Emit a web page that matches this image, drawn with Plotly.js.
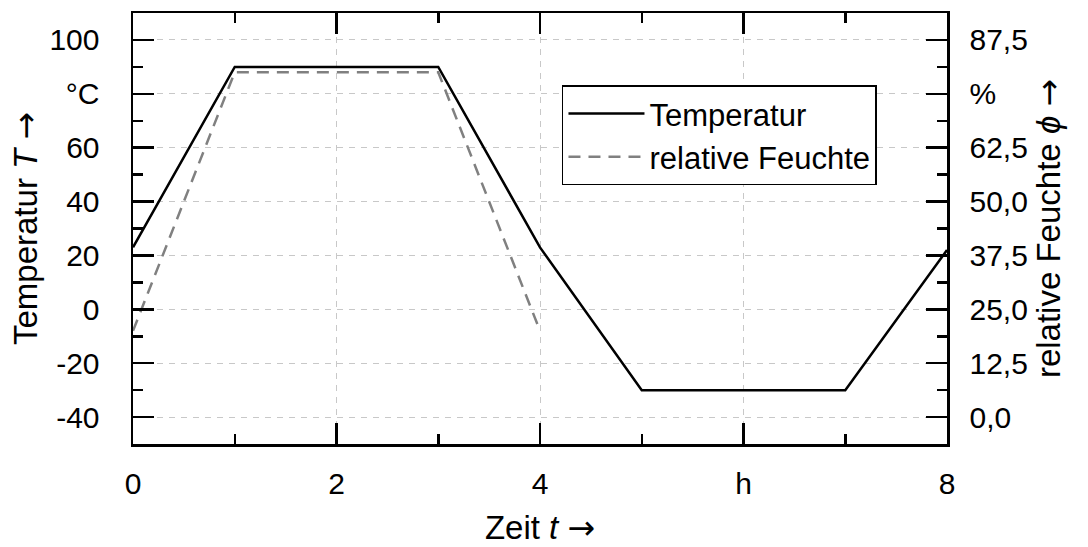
<!DOCTYPE html>
<html>
<head>
<meta charset="utf-8">
<script src="https://cdn.plot.ly/plotly-3.0.1.min.js"></script>
<style>html,body{margin:0;padding:0;background:#fff;}#chart{width:1088px;height:547px;}</style>
</head>
<body>
<div id="chart"></div>
<script>
// Data
const timeTemp = [0, 1, 3, 4, 5, 7, 8];
const temperature = [23, 90, 90, 23, -30, -30, 22];
const timeHum = [0, 1, 3, 4];
const humidity = [20, 80, 80, 20];

const xTickVals = [0, 2, 4, 6, 8];
const xTickText = ['0', '2', '4', 'h', '8'];
const yTickVals = [-40, -20, 0, 20, 40, 60, 80, 100];
const yTickText = ['-40', '-20', '0', '20', '40', '60', '°C', '100'];
const y2TickVals = [0, 12.5, 25, 37.5, 50, 62.5, 75, 87.5];
const y2TickText = ['0,0', '12,5', '25,0', '37,5', '50,0', '62,5', '%', '87,5'];

const FONT = '"Liberation Sans", Arial, Helvetica, sans-serif';
const TICKFONT = {family: FONT, size: 30, color: '#000'};
const TITLEFONT = {family: FONT, size: 33, color: '#000'};
const ARROW = '<span style="font-family:\'DejaVu Sans\'">\u2192</span>';

const traces = [
  {x: timeTemp, y: temperature, type: 'scatter', mode: 'lines', name: 'Temperatur',
   line: {color: '#000', width: 2.5}, xaxis: 'x', yaxis: 'y'},
  {x: timeHum, y: humidity, type: 'scatter', mode: 'lines', name: 'relative Feuchte',
   line: {color: '#808080', width: 2.5, dash: '12px,8px'}, xaxis: 'x', yaxis: 'y2'}
];

const gridStyle = {showgrid: true, gridcolor: '#c8c8c8', gridwidth: 1, griddash: '6px,6px'};

const layout = {
  width: 1088, height: 547,
  margin: {l: 133, r: 141, t: 13, b: 103, pad: 0},
  paper_bgcolor: '#fff', plot_bgcolor: '#fff',
  font: {family: FONT, size: 30, color: '#000'},
  showlegend: true,
  legend: {x: 0.527, y: 0.832, xanchor: 'left', yanchor: 'top',
           bgcolor: '#fff', bordercolor: '#000', borderwidth: 1.5,
           itemwidth: 76,
           font: {family: FONT, size: 31, color: '#000'}, tracegroupgap: 0},
  xaxis: Object.assign({
    range: [0, 8], tickmode: 'array', tickvals: xTickVals, ticktext: xTickText,
    ticks: 'inside', ticklen: 21, tickwidth: 2.5, tickcolor: '#000',
    minor: {dtick: 1, tick0: 0, ticks: 'inside', ticklen: 10, tickwidth: 2.5, tickcolor: '#000', showgrid: false},
    showline: true, linewidth: 2.5, linecolor: '#000', mirror: 'ticks',
    zeroline: false, tickfont: TICKFONT, ticklabelstandoff: 11,
    title: {text: 'Zeit <i>t</i> ' + ARROW, font: TITLEFONT, standoff: 24}
  }, gridStyle),
  yaxis: Object.assign({
    range: [-50, 110], tickmode: 'array', tickvals: yTickVals, ticktext: yTickText,
    ticks: 'inside', ticklen: 21, tickwidth: 2.5, tickcolor: '#000',
    minor: {dtick: 10, tick0: 0, ticks: 'inside', ticklen: 10, tickwidth: 2.5, tickcolor: '#000', showgrid: false},
    showline: true, linewidth: 2.5, linecolor: '#000', mirror: true,
    zeroline: false, tickfont: TICKFONT, ticklabelstandoff: 25,
    title: {text: 'Temperatur <i>T</i> ' + ARROW, font: TITLEFONT, standoff: 2}
  }, gridStyle),
  yaxis2: {
    overlaying: 'y', side: 'right', range: [-6.25, 93.75],
    tickmode: 'array', tickvals: y2TickVals, ticktext: y2TickText,
    ticks: 'inside', ticklen: 21, tickwidth: 2.5, tickcolor: '#000',
    minor: {dtick: 6.25, tick0: 0, ticks: 'inside', ticklen: 10, tickwidth: 2.5, tickcolor: '#000', showgrid: false},
    showline: true, linewidth: 2.5, linecolor: '#000',
    showgrid: false, zeroline: false, tickfont: TICKFONT, ticklabelstandoff: 14,
    title: {text: 'relative Feuchte <i>\u03d5</i> ' + ARROW, font: TITLEFONT, standoff: 10}
  }
};

Plotly.newPlot('chart', traces, layout, {displayModeBar: false, staticPlot: true});
</script>
</body>
</html>
